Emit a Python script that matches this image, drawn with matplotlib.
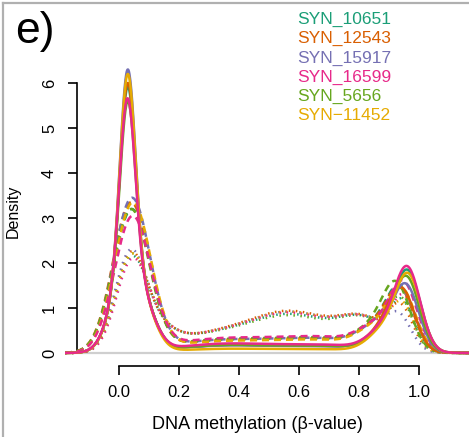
import numpy as np
import matplotlib
matplotlib.use("Agg")
import matplotlib.pyplot as plt
from matplotlib.lines import Line2D

plt.rcParams['font.family'] = ['Liberation Sans', 'DejaVu Sans']

# ---------------- data ----------------
samples = ["SYN_10651", "SYN_12543", "SYN_15917", "SYN_16599", "SYN_5656", "SYN\u221211452"]
colors = ["#1B9E77", "#D95F02", "#7570B3", "#E7298A", "#66A61E", "#E6AB02"]

# solid curves
solid_low_peak = [5.92, 6.00, 6.30, 5.66, 5.60, 6.20]
solid_low_pos = [0.029, 0.029, 0.029, 0.028, 0.029, 0.029]
solid_high_peak = [1.84, 1.44, 1.53, 1.92, 1.70, 1.77]
solid_high_pos = [0.965, 0.947, 0.960, 0.964, 0.962, 0.966]
solid_plateau = [0.17, 0.17, 0.16, 0.20, 0.17, 0.09]

# dashed curves
dashed_low_peak = [3.20, 3.35, 3.45, 3.05, 3.20, 3.35]
dashed_low_pos = [0.042, 0.040, 0.043, 0.045, 0.040, 0.046]
dashed_high_peak = [1.50, 1.45, 1.40, 1.60, 1.58, 1.45]
dashed_high_pos = [0.940, 0.940, 0.945, 0.950, 0.928, 0.945]
dashed_plateau = [0.27, 0.26, 0.27, 0.30, 0.28, 0.24]

# dotted curves
dotted_low_peak = [2.15, 2.25, 2.30, 2.10, 2.20, 2.20]
dotted_low_pos = [0.040, 0.038, 0.037, 0.042, 0.040, 0.040]
dotted_hump = [0.85, 0.92, 0.90, 0.88, 0.82, 0.90]
dotted_high_peak = [1.20, 1.10, 0.90, 1.30, 1.25, 1.15]
dotted_high_pos = [0.945, 0.940, 0.935, 0.950, 0.940, 0.945]

x_ticks = [0.0, 0.2, 0.4, 0.6, 0.8, 1.0]
x_tick_labels = ["0.0", "0.2", "0.4", "0.6", "0.8", "1.0"]
y_ticks = [0, 1, 2, 3, 4, 5, 6]
y_tick_labels = ["0", "1", "2", "3", "4", "5", "6"]

# drawing order of samples (pink ends on top, as in the reference)
draw_order = [0, 1, 2, 4, 5, 3]


# ---------------- curve shapes ----------------
def bump(x, c, s):
    return np.exp(-0.5 * ((np.asarray(x) - c) / s) ** 2)


def density(x, fixed, peaks):
    """fixed: list of (center, sd, height); peaks: list of (center, sd, target value)."""
    n = len(peaks)
    M = np.zeros((n, n))
    t = np.zeros(n)
    for i, (ci, si, ti) in enumerate(peaks):
        t[i] = ti - sum(h * bump(ci, c, s) for c, s, h in fixed)
        for j, (cj, sj, _) in enumerate(peaks):
            M[i, j] = bump(ci, cj, sj)
    h = np.linalg.solve(M, t)
    y = sum(hh * bump(x, c, s) for c, s, hh in fixed)
    y = y + sum(h[j] * bump(x, peaks[j][0], peaks[j][1]) for j in range(n))
    return y


x = np.linspace(-0.18, 1.18, 900)

fig = plt.figure(figsize=(4.69, 4.37), dpi=100)
W, H = 469.0, 437.0
ax = fig.add_axes([65 / W, 1 - 385 / H, 1 - 65 / W, (385 - 60) / H])
ax.set_xlim(-0.18, 350 / 300)
ax.set_ylim((353 - 385) / 45, (353 - 60) / 45)

ax.axhline(0, color="#cfcfcf", lw=1.6, zorder=0)

lw = 1.8
# dotted
for i in draw_order:
    fixed = [(0.13, 0.06, 0.40), (0.28, 0.12, 0.30), (0.57, 0.15, dotted_hump[i]),
             (0.82, 0.08, 0.60)]
    peaks = [(dotted_low_pos[i], 0.052, dotted_low_peak[i]),
             (dotted_high_pos[i], 0.040, dotted_high_peak[i])]
    y = density(x, fixed, peaks)
    ax.plot(x, y, color=colors[i], lw=lw, dashes=(0.6, 2.2), dash_capstyle="butt", zorder=2)

# dashed
for i in draw_order:
    p = dashed_plateau[i]
    fixed = [(0.33, 0.17, p), (0.68, 0.16, 1.1 * p), (0.86, 0.06, 0.45)]
    peaks = [(dashed_low_pos[i], 0.060, dashed_low_peak[i]),
             (dashed_high_pos[i], 0.045, dashed_high_peak[i])]
    y = density(x, fixed, peaks)
    ax.plot(x, y, color=colors[i], lw=lw, dashes=(2.8, 2.0), dash_capstyle="butt", zorder=3)

# solid
for i in draw_order:
    p = solid_plateau[i]
    fixed = [(solid_low_pos[i], 0.05, 2.0), (0.10, 0.04, 0.35), (0.35, 0.17, p),
             (0.70, 0.15, 0.8 * p), (0.89, 0.055, 0.5)]
    peaks = [(solid_low_pos[i], 0.025, solid_low_peak[i]),
             (solid_high_pos[i], 0.042, solid_high_peak[i])]
    y = density(x, fixed, peaks)
    ax.plot(x, y, color=colors[i], lw=lw, zorder=4)

# axes styling (R-like detached axes)
for s in ["top", "right"]:
    ax.spines[s].set_visible(False)
ax.spines["left"].set_position(("data", (76.5 - 119) / 300))
ax.spines["left"].set_bounds(0, 6)
ax.spines["bottom"].set_position(("data", (353 - 365.5) / 45))
ax.spines["bottom"].set_bounds(0, 1)
for s in ["left", "bottom"]:
    ax.spines[s].set_linewidth(1.2)

ax.set_xticks(x_ticks)
ax.set_xticklabels(x_tick_labels)
ax.set_yticks(y_ticks)
ax.set_yticklabels(y_tick_labels)
ax.tick_params(axis="both", direction="out", length=6.5, width=1.2, labelsize=12)
ax.tick_params(axis="x", pad=7.6)
ax.tick_params(axis="y", pad=9.7)
for lab in ax.get_yticklabels():
    lab.set_rotation(90)
    lab.set_rotation_mode("anchor")
    lab.set_ha("center")
    lab.set_va("baseline")

# labels
fig.text(257 / W, 1 - 429 / H, "DNA methylation (\u03b2-value)", ha="center", va="baseline", fontsize=13)
fig.text(17.3 / W, 1 - 211 / H, "Density", rotation=90, rotation_mode="anchor",
         ha="center", va="baseline", fontsize=11.5)
fig.text(15.5 / W, 1 - 43 / H, "e)", fontsize=32, va="baseline")

for i, name in enumerate(samples):
    fig.text(297 / W, 1 - (24 + 19.2 * i) / H, name, color=colors[i], fontsize=12.5, va="baseline")

# panel frame (gray lines on top and left)
fig.add_artist(Line2D([3 / W, 3 / W], [0, 1 - 3 / H], transform=fig.transFigure, color="#b0b0b0", lw=1.6))
fig.add_artist(Line2D([3 / W, 1], [1 - 3 / H, 1 - 3 / H], transform=fig.transFigure, color="#b0b0b0", lw=1.6))

fig.savefig("out.png", dpi=100)
